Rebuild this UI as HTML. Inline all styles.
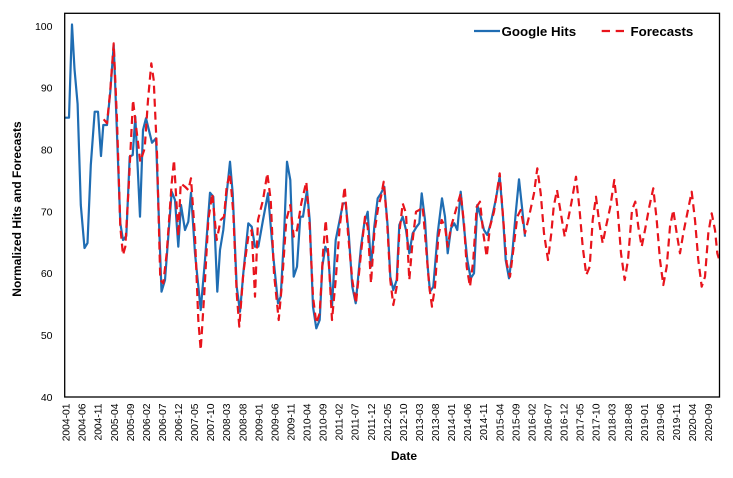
<!DOCTYPE html>
<html>
<head>
<meta charset="utf-8">
<style>
  html, body { margin: 0; padding: 0; background: #ffffff; }
  body { width: 733px; height: 478px; overflow: hidden; }
  svg { display: block; }
  text { font-family: "Liberation Sans", Arial, sans-serif; fill: #000; }
</style>
</head>
<body>
<svg width="733" height="478" viewBox="0 0 733 478" xmlns="http://www.w3.org/2000/svg">
  <rect x="0" y="0" width="733" height="478" fill="#ffffff"/>

  <!-- series -->
  <polyline fill="none" stroke="#1f6db3" stroke-width="2.2" stroke-linejoin="round" points="64.7,117.7 69,117.7 72,24.5 74.5,69 77.6,104 80.8,205 84.5,248 87.5,243 90.8,165 94.7,111.7 98,111.7 101,156 103.3,125 107,125 110.3,91.7 113.7,45 120.3,223 123,240 126.3,236 129.7,156.7 132.7,155 135.3,116.7 140,216.7 143,130 146,118.3 152,142.7 156,138.3 161.5,291.7 165,280 171.7,191.7 175,200 178.3,246.7 181,205 185,230 188.3,221.7 191,192.7 195,253.3 200.7,310 205,260 210,192.7 213.3,196.7 217.3,291.7 220,250 223.3,230 226.7,193.3 230,161.7 232.7,193.3 236.7,286.7 240,311.7 243.3,273.3 248.3,223.3 251.7,226.7 255,246.7 258.3,246.7 263,220 268,193.3 273,253.3 278,303.3 280.7,296.7 284,236.7 287,161.7 290.3,180 293.7,276.7 297,266.7 300.3,216.7 303,216.7 307,190 309.7,220 313,306.7 316.3,328.3 319.7,320 322.3,266.7 325.3,246.7 328,253.3 332,306.7 335.7,240 339.7,220 343,203.3 345.7,203.3 348.7,233.3 352.3,286.7 355.7,303.3 361,246.7 364.3,223.3 367.7,211.7 371,266.7 374.3,226.7 377.7,198.3 381,193.3 384.3,186.7 387.7,226.7 390.3,276.7 393.3,290 396.7,280 399.3,225 402.7,216.7 406,230 409.3,253.3 412.7,233.3 416.7,226.7 419.3,223.3 421.7,193.3 425,220 427.7,266.7 430,291.7 433.3,286.7 437.7,233.3 442,198.3 445,216.7 447.7,253.3 451,228.3 454.3,223.3 457.3,230 460.7,191.7 464,226.7 467.3,260 470.7,278.3 474,273.3 477.3,205 480.7,216.7 484,230 487.3,235 490.7,223.3 495.7,200 499.7,176.7 503,216.7 505.7,260 509,278.3 512.3,253.3 515.7,213.3 519,179.3 522.3,210 525,236.7"/>

  <polyline fill="none" stroke="#e8141c" stroke-width="2.2" stroke-dasharray="8 5" stroke-linejoin="round" points="103.7,119.3 107,123.3 110.3,90 113.7,43.3 117,120 120.3,226.7 123,255 125.3,246.7 128.7,186.7 133,100 135.3,120 140.3,161.7 144.7,148.3 148,100 151.3,63.3 153.7,80 157,153.3 160.3,280 163.3,283.3 166.7,253.3 171.7,183.3 174,160 176.7,206.7 178.3,236.7 180.7,183.3 185,186.7 188.3,190 191,178.3 195,236.7 198.3,320 200.7,350 204.3,293.3 208.3,220 212.3,193.3 216.7,240 220.7,220 224,216.7 226.7,186.7 230,173.3 233.3,213.3 236.7,293.3 239.3,326.7 243.3,273.3 248.3,236.7 251.7,230 255,296.7 258,220 263,200 267.3,173.3 270.7,200 274,273.3 278.7,320 282,283.3 286.3,220 290.3,205 293.7,236.7 297,230 301.3,203.3 306.3,181.7 309.7,226.7 313,296.7 316.3,323.3 319.7,313.3 323,253.3 325.7,220 328.7,260 332,320 335.7,280 339.7,226.7 344.7,186.7 348,233.3 352.3,280 356,303.3 361,253.3 365,216.7 367.7,226.7 371,283.3 374.3,233.3 378.3,206.7 381,196.7 383.7,181.7 387,220 390.3,280 393.3,305 396.7,286.7 399.3,233.3 402.7,203.3 406,213.3 409.3,280 412.7,240 416,211.7 419.3,210 422.7,206.7 426,246.7 429.3,286.7 432,306.7 435,286.7 438.3,236.7 441.7,220 445,226.7 447.7,246.7 451,226.7 454,216.7 457.3,205 460.7,193.3 464,223.3 466.7,266.7 470,286.7 473.3,260 476.7,206.7 480,201.7 483.3,233.3 486.7,256.7 490,226.7 494,211.7 499.7,173.3 503.3,220 506.7,263.3 510,276.7 513.3,250 517.3,216.7 520.7,210 525,233.3 529,216.7 534,193.3 537.3,168.3 540.7,193.3 544,233.3 548,260 551.3,233.3 553.7,206.7 557,190 560.3,210 564.7,236.7 568,220 571.3,203.3 576,176.7 579.3,206.7 582.7,246.7 586.3,275 589.7,266.7 592.7,220 596,196.7 599.3,223.3 602.7,243.3 606,226.7 610.3,206.7 614.3,180 617.7,210 621,253.3 624.7,280 628,260 632,210 635.3,201.7 638.3,226.7 641.7,246.7 645,230 649.3,206.7 653.3,188.3 656.7,220 660,260 663.3,285 666.7,266.7 670,226.7 673.3,210 676.7,233.3 680,253.3 683.3,233.3 687.3,213.3 691.7,191.7 695,220 698.3,260 701.7,286.7 705,276.7 708.3,233.3 711.7,213.3 715,230 717.3,253.3 719.3,260"/>

  <!-- plot frame -->
  <rect x="64.7" y="13.3" width="654.8" height="383.7" fill="none" stroke="#000" stroke-width="1.3"/>

  <!-- y tick labels -->
  <g font-size="10.5" text-anchor="end">
    <text x="52.5" y="29.8">100</text>
    <text x="52.5" y="91.6">90</text>
    <text x="52.5" y="153.5">80</text>
    <text x="52.5" y="215.3">70</text>
    <text x="52.5" y="277.1">60</text>
    <text x="52.5" y="339">50</text>
    <text x="52.5" y="400.8">40</text>
  </g>

  <!-- y axis title -->
  <text transform="translate(21,209) rotate(-90)" font-size="12" font-weight="bold" text-anchor="middle">Normalized Hits and Forecasts</text>

  <!-- x tick labels -->
  <g font-size="10.3" text-anchor="end">
    <text transform="translate(69.6,403.5) rotate(-90)">2004-01</text>
    <text transform="translate(85.7,403.5) rotate(-90)">2004-06</text>
    <text transform="translate(101.7,403.5) rotate(-90)">2004-11</text>
    <text transform="translate(117.8,403.5) rotate(-90)">2005-04</text>
    <text transform="translate(133.9,403.5) rotate(-90)">2005-09</text>
    <text transform="translate(149.9,403.5) rotate(-90)">2006-02</text>
    <text transform="translate(166.0,403.5) rotate(-90)">2006-07</text>
    <text transform="translate(182.0,403.5) rotate(-90)">2006-12</text>
    <text transform="translate(198.1,403.5) rotate(-90)">2007-05</text>
    <text transform="translate(214.2,403.5) rotate(-90)">2007-10</text>
    <text transform="translate(230.2,403.5) rotate(-90)">2008-03</text>
    <text transform="translate(246.3,403.5) rotate(-90)">2008-08</text>
    <text transform="translate(262.4,403.5) rotate(-90)">2009-01</text>
    <text transform="translate(278.4,403.5) rotate(-90)">2009-06</text>
    <text transform="translate(294.5,403.5) rotate(-90)">2009-11</text>
    <text transform="translate(310.5,403.5) rotate(-90)">2010-04</text>
    <text transform="translate(326.6,403.5) rotate(-90)">2010-09</text>
    <text transform="translate(342.7,403.5) rotate(-90)">2011-02</text>
    <text transform="translate(358.7,403.5) rotate(-90)">2011-07</text>
    <text transform="translate(374.8,403.5) rotate(-90)">2011-12</text>
    <text transform="translate(390.9,403.5) rotate(-90)">2012-05</text>
    <text transform="translate(406.9,403.5) rotate(-90)">2012-10</text>
    <text transform="translate(423.0,403.5) rotate(-90)">2013-03</text>
    <text transform="translate(439.0,403.5) rotate(-90)">2013-08</text>
    <text transform="translate(455.1,403.5) rotate(-90)">2014-01</text>
    <text transform="translate(471.2,403.5) rotate(-90)">2014-06</text>
    <text transform="translate(487.2,403.5) rotate(-90)">2014-11</text>
    <text transform="translate(503.3,403.5) rotate(-90)">2015-04</text>
    <text transform="translate(519.4,403.5) rotate(-90)">2015-09</text>
    <text transform="translate(535.4,403.5) rotate(-90)">2016-02</text>
    <text transform="translate(551.5,403.5) rotate(-90)">2016-07</text>
    <text transform="translate(567.5,403.5) rotate(-90)">2016-12</text>
    <text transform="translate(583.6,403.5) rotate(-90)">2017-05</text>
    <text transform="translate(599.7,403.5) rotate(-90)">2017-10</text>
    <text transform="translate(615.7,403.5) rotate(-90)">2018-03</text>
    <text transform="translate(631.8,403.5) rotate(-90)">2018-08</text>
    <text transform="translate(647.9,403.5) rotate(-90)">2019-01</text>
    <text transform="translate(663.9,403.5) rotate(-90)">2019-06</text>
    <text transform="translate(680.0,403.5) rotate(-90)">2019-11</text>
    <text transform="translate(696.0,403.5) rotate(-90)">2020-04</text>
    <text transform="translate(712.1,403.5) rotate(-90)">2020-09</text>
  </g>

  <!-- x axis title -->
  <text x="404" y="460" font-size="12" font-weight="bold" text-anchor="middle">Date</text>

  <!-- legend -->
  <line x1="474" y1="31" x2="500" y2="31" stroke="#1f6db3" stroke-width="2.2"/>
  <text x="501.5" y="36" font-size="13.3" font-weight="bold">Google Hits</text>
  <line x1="601.7" y1="31" x2="624.5" y2="31" stroke="#e8141c" stroke-width="2.2" stroke-dasharray="8.3 5.7"/>
  <text x="630.5" y="36" font-size="13.3" font-weight="bold">Forecasts</text>
</svg>
</body>
</html>
